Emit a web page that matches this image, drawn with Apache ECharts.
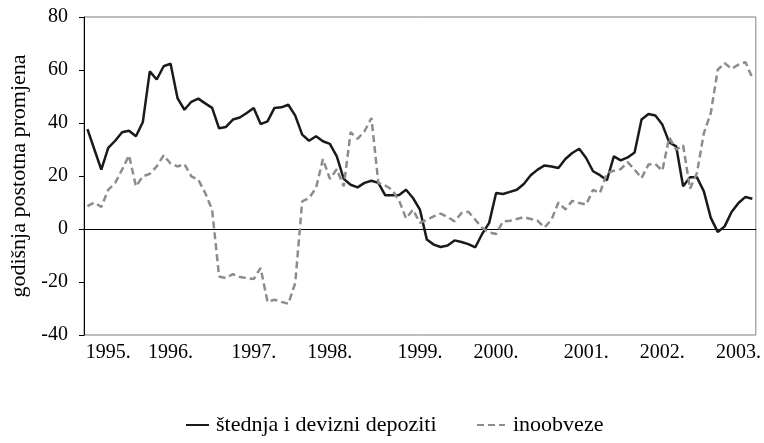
<!DOCTYPE html>
<html><head><meta charset="utf-8">
<script src="https://cdn.jsdelivr.net/npm/echarts@6/dist/echarts.min.js"></script>
<style>html,body{margin:0;padding:0;background:#fff}#c{width:764px;height:443px}</style>
</head><body><div id="c"></div>
<script>
// monthly categories (97 months)
const months = [];
for (let y = 1995; y <= 2003; y++) for (let m = 1; m <= 12; m++) if (months.length < 97) months.push(y + '-' + (m < 10 ? '0' + m : m));

const yearLabels = ['1995.', '1996.', '1997.', '1998.', '1999.', '2000.', '2001.', '2002.', '2003.'];
const yearLabelIndex = [3, 12, 24, 35, 48, 59, 72, 83, 94];

const seriesNames = ['štednja i devizni depoziti', 'inoobveze'];

const stednja = [37.7, 30, 22.4, 30.6, 33.3, 36.5, 37.1, 35, 40.4, 59.5,
  56.4, 61.4, 62.4, 49.4, 45, 48, 49.2, 47.4, 45.7, 38,
  38.5, 41.3, 42.1, 43.8, 45.7, 39.6, 40.6, 45.7, 45.9, 46.9,
  42.8, 35.6, 33.3, 35, 33.1, 32.1, 27.4, 18.9, 16.7, 15.7,
  17.4, 18.2, 17.4, 12.7, 12.7, 12.8, 14.8, 11.7, 7.3, -4,
  -5.9, -6.8, -6.2, -4.3, -4.9, -5.7, -6.9, -1.8, 2.3, 13.6,
  13.2, 14, 14.8, 17, 20.3, 22.4, 24, 23.6, 23, 26.4,
  28.7, 30.3, 26.8, 21.8, 20.3, 18.4, 27.4, 25.9, 27, 28.9,
  41.3, 43.4, 42.8, 39.4, 32.7, 31.2, 16.1, 19.5, 19.5, 14.2,
  4.2, -1.1, 1, 6.4, 9.8, 12.1, 11.4];

const inoobveze = [8.6, 10, 8.3, 14.8, 17.4, 22.4, 27.8, 16.1, 19.9, 20.8,
  23.6, 27.8, 24.7, 23.6, 24.5, 19.9, 18.6, 13.6, 7.3, -17.9,
  -18.5, -17, -18.1, -18.5, -18.9, -14.7, -27.5, -26.7, -27.5, -28.2,
  -20.4, 10.4, 11.7, 15.5, 26.4, 18.9, 22.6, 16.1, 36.5, 34,
  36.9, 41.9, 17.4, 16.4, 14.8, 10.7, 4, 7.3, 2.3, 3.5,
  4.8, 5.8, 4.5, 2.9, 6, 6.5, 3.5, 0.4, -1.3, -1.9,
  2.9, 3.1, 3.8, 4.5, 3.8, 3.1, 0.6, 3.5, 10, 7.4,
  10.6, 9.8, 9.2, 14.8, 13.6, 21.1, 22, 22.6, 25.2, 22.4,
  19.2, 24.3, 24.5, 22, 34.6, 29.9, 31.6, 15.2, 21.1, 36.2,
  43.8, 60.1, 62.6, 60.5, 62, 63, 57];

const yMin = -40, yMax = 80, yStep = 20;
const yTitle = 'godišnja postotna promjena';

const FONT = "'Liberation Serif', 'Times New Roman', serif";
const chart = echarts.init(document.getElementById('c'), null, {renderer: 'canvas'});
chart.setOption({
  animation: false,
  backgroundColor: '#fff',
  grid: {left: 84, right: 8, top: 17, bottom: 108, show: true, borderColor: '#7f7f7f', borderWidth: 1},
  legend: [
    {data: [seriesNames[0]], left: 185, top: 414, padding: 0, itemWidth: 23, itemHeight: 12,
     itemStyle: {opacity: 0},
     textStyle: {fontFamily: FONT, fontSize: 22, color: '#000', padding: [0, 0, 0, 2]}},
    {data: [seriesNames[1]], left: 476, top: 414, padding: 0, itemWidth: 28, itemHeight: 12,
     itemStyle: {opacity: 0},
     textStyle: {fontFamily: FONT, fontSize: 22, color: '#000', padding: [0, 0, 0, 3]}}
  ],
  xAxis: [
    {type: 'category', data: months, boundaryGap: true,
     axisLine: {onZero: true, lineStyle: {color: '#000', width: 1}},
     axisTick: {interval: 11, length: 5, lineStyle: {color: '#000'}},
     axisLabel: {show: false}, splitLine: {show: false}},
    {type: 'category', data: months, boundaryGap: true, position: 'bottom',
     axisLine: {show: false, onZero: false}, axisTick: {show: false}, splitLine: {show: false},
     axisLabel: {
       interval: (i) => yearLabelIndex.indexOf(i) >= 0,
       formatter: (v, i) => { const k = yearLabelIndex.indexOf(i); return k >= 0 ? yearLabels[k] : ''; },
       fontFamily: FONT, fontSize: 20, color: '#000', margin: 8
     }}
  ],
  yAxis: {
    type: 'value', min: yMin, max: yMax, interval: yStep,
    axisLine: {show: true, onZero: false, lineStyle: {color: '#000'}},
    axisTick: {show: true, length: 5, lineStyle: {color: '#000'}},
    splitLine: {show: false},
    axisLabel: {fontFamily: FONT, fontSize: 20, color: '#000', margin: 16},
    name: yTitle, nameLocation: 'middle', nameGap: 52,
    nameTextStyle: {fontFamily: FONT, fontSize: 22, color: '#000'}
  },
  series: [
    {name: seriesNames[0], type: 'line', data: stednja, xAxisIndex: 0, symbol: 'none',
     lineStyle: {color: '#1a1a1a', width: 2.5}, itemStyle: {color: '#1a1a1a'}},
    {name: seriesNames[1], type: 'line', data: inoobveze, xAxisIndex: 0, symbol: 'none',
     lineStyle: {color: '#8c8c8c', width: 2.5, type: [7, 4]}, itemStyle: {color: '#8c8c8c'}}
  ]
});
</script></body></html>
